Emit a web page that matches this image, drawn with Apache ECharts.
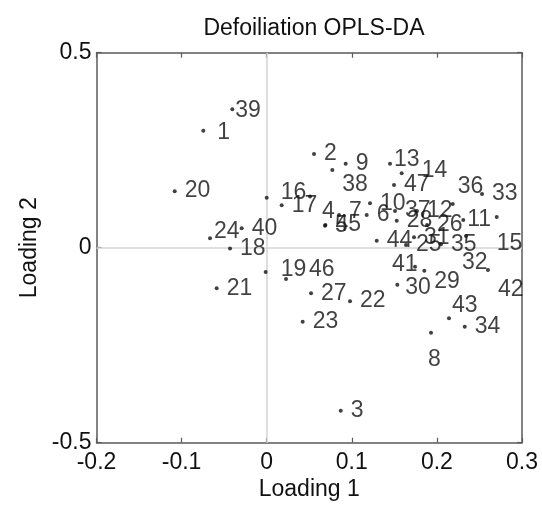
<!DOCTYPE html>
<html>
<head>
<meta charset="utf-8">
<script src="https://cdn.jsdelivr.net/npm/echarts@6/dist/echarts.min.js"></script>
<style>
html,body{margin:0;padding:0;background:#fff;}
#chart{width:542px;height:508px;}
</style>
</head>
<body>
<div id="chart"></div>
<script>
// ---- data ----
const pointLabels = ['1','2','3','4','5','6','7','8','9','10','11','12','13','14','15','16','17','18','19','20','21','22','23','24','25','26','27','28','29','30','31','32','33','34','35','36','37','38','39','40','41','42','43','44','45','46','47'];
const loading1 = [-0.0745,0.0556,0.0870,0.0509,0.0685,0.1175,0.0850,0.1931,0.0928,0.1214,0.2310,0.1766,0.1449,0.1586,0.2703,0.0000,0.0176,-0.0431,-0.0012,-0.1081,-0.0588,0.0979,0.0423,-0.0666,0.1637,0.1884,0.0521,0.1528,0.1852,0.1535,0.1731,0.2342,0.2530,0.2327,0.2048,0.2186,0.1508,0.0771,-0.0404,-0.0294,0.1743,0.2600,0.2142,0.1293,0.0690,0.0227,0.1496];
const loading2 = [0.300,0.240,-0.418,0.131,0.056,0.084,0.084,-0.218,0.215,0.114,0.071,0.094,0.215,0.191,0.079,0.128,0.109,-0.002,-0.062,0.145,-0.104,-0.137,-0.190,0.024,0.007,0.058,-0.117,0.069,-0.059,-0.095,0.027,0.030,0.138,-0.203,0.009,0.112,0.094,0.199,0.355,0.050,-0.049,-0.057,-0.181,0.018,0.058,-0.080,0.161];
const xTicks = {min:-0.2, max:0.3, step:0.1};
const yTicks = {min:-0.5, max:0.5, step:0.5};

// ---- label nudges (style only, pixels) ----
const labelNudge = {
  '1':[4,2], '16':[4,-5], '39':[-7,1], '24':[-6,-7], '13':[-6,-4], '14':[10,-3],
  '38':[0,15], '4':[2,15], '36':[-5,-17], '15':[-10,27], '32':[-14,27], '42':[0,20],
  '43':[-7,-13], '8':[-13,27], '41':[-33,-2], '29':[0,11], '46':[13,-9], '19':[5,-2],
  '11':[-6,0], '7':[0,-3], '30':[-2,3]
};

const FONT = 'Liberation Sans, Arial, Helvetica, sans-serif';
const TXT = '#111';
const AX = '#5a5a5a';

const pts = loading1.map((x, i) => [x, loading2[i], pointLabels[i]]);

const chart = echarts.init(document.getElementById('chart'), null, {renderer:'canvas'});
chart.setOption({
  animation: false,
  backgroundColor: '#fff',
  title: {
    text: 'Defoiliation OPLS-DA',
    left: 309, top: 12, textAlign: 'center',
    textStyle: {fontFamily: FONT, fontSize: 23, fontWeight: 'normal', color: TXT}
  },
  grid: {left: 96.5, right: 20, top: 52.7, bottom: 65.3, containLabel: false, outerBoundsMode: 'none'},
  xAxis: [{
    type: 'value', min: xTicks.min, max: xTicks.max, interval: xTicks.step,
    position: 'bottom',
    name: 'Loading 1', nameLocation: 'middle', nameGap: 31,
    nameTextStyle: {fontFamily: FONT, fontSize: 23, color: TXT},
    axisLine: {show: true, onZero: false, lineStyle: {color: AX, width: 1.5}},
    axisTick: {show: true, inside: true, length: 5, lineStyle: {color: AX, width: 1.2}},
    axisLabel: {fontFamily: FONT, fontSize: 23, color: TXT, margin: 8},
    splitLine: {show: false}
  }, {
    type: 'value', min: xTicks.min, max: xTicks.max, interval: xTicks.step,
    position: 'top',
    axisLine: {show: true, onZero: false, lineStyle: {color: AX, width: 1.5}},
    axisTick: {show: true, inside: true, length: 5, lineStyle: {color: AX, width: 1.2}},
    axisLabel: {show: false}, splitLine: {show: false}
  }],
  yAxis: [{
    type: 'value', min: yTicks.min, max: yTicks.max, interval: yTicks.step,
    position: 'left',
    name: 'Loading 2', nameLocation: 'middle', nameGap: 55, nameRotate: 90,
    nameTextStyle: {fontFamily: FONT, fontSize: 23, color: TXT},
    axisLine: {show: true, onZero: false, lineStyle: {color: AX, width: 1.5}},
    axisTick: {show: true, inside: true, length: 5, lineStyle: {color: AX, width: 1.2}},
    axisLabel: {fontFamily: FONT, fontSize: 23, color: TXT, margin: 5},
    splitLine: {show: false}
  }, {
    type: 'value', min: yTicks.min, max: yTicks.max, interval: yTicks.step,
    position: 'right',
    axisLine: {show: true, onZero: false, lineStyle: {color: AX, width: 1.5}},
    axisTick: {show: true, inside: true, length: 5, lineStyle: {color: AX, width: 1.2}},
    axisLabel: {show: false}, splitLine: {show: false}
  }],
  series: [{
    type: 'scatter',
    xAxisIndex: 0, yAxisIndex: 0,
    symbol: 'circle', symbolSize: 4,
    itemStyle: {color: '#111'},
    data: pts,
    label: {
      show: true, position: 'right', distance: 8,
      formatter: p => p.value[2],
      fontFamily: FONT, fontSize: 23, color: TXT
    },
    labelLayout: function (params) {
      const n = labelNudge[pointLabels[params.dataIndex]];
      return n ? {dx: n[0], dy: n[1], hideOverlap: false} : {hideOverlap: false};
    },
    markLine: {
      silent: true, symbol: 'none', label: {show: false},
      lineStyle: {color: '#d4d4d4', width: 1.5, type: 'solid'},
      data: [{xAxis: 0}, {yAxis: 0}],
      z: 1
    },
    z: 3
  }]
});
</script>
</body>
</html>
